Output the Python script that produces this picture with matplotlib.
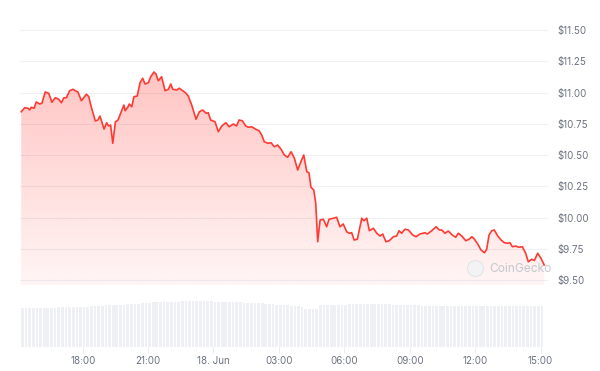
import matplotlib
matplotlib.use("Agg")
import matplotlib.pyplot as plt
import numpy as np
from matplotlib.patches import Polygon
from matplotlib.lines import Line2D

plt.rcParams['font.family'] = ['Inter', 'DejaVu Sans']

# time in hours since 17 Jun 00:00
times = [15.18, 15.34, 15.49, 15.57, 15.64, 15.77, 15.87, 16.03, 16.13, 16.28, 16.44, 16.59, 16.74, 16.90,
         17.02, 17.14, 17.25, 17.40, 17.56, 17.66, 17.78, 17.94, 18.17, 18.28, 18.39, 18.58, 18.70, 18.79,
         18.98, 19.10, 19.19, 19.28, 19.38, 19.50, 19.62, 19.80, 19.89, 19.95, 20.08, 20.14, 20.25, 20.35,
         20.50, 20.63, 20.75, 20.86, 21.01, 21.12, 21.27, 21.36, 21.47, 21.62, 21.78, 21.93, 22.04, 22.13,
         22.31, 22.43, 22.59, 22.74, 22.84, 23.00, 23.20, 23.35, 23.50, 23.66, 23.76, 23.87, 24.07, 24.22,
         24.38, 24.57, 24.72, 24.91, 25.06, 25.17, 25.32, 25.48, 25.60, 25.75, 25.94, 26.09, 26.21, 26.33,
         26.49, 26.64, 26.79, 26.94, 27.10, 27.25, 27.40, 27.56, 27.71, 27.86, 28.01, 28.14, 28.28, 28.38,
         28.47, 28.60, 28.69, 28.78, 28.89, 29.04, 29.19, 29.30, 29.50, 29.65, 29.80, 29.95, 30.11, 30.23,
         30.34, 30.45, 30.60, 30.80, 30.90, 31.03, 31.15, 31.33, 31.49, 31.64, 31.76, 31.91, 32.06, 32.25,
         32.40, 32.51, 32.63, 32.78, 32.94, 33.14, 33.29, 33.47, 33.70, 33.81, 34.01, 34.21, 34.36, 34.47,
         34.62, 34.77, 34.95, 35.11, 35.23, 35.39, 35.57, 35.72, 35.85, 35.97, 36.12, 36.27, 36.43, 36.53,
         36.64, 36.76, 36.88, 37.04, 37.19, 37.34, 37.50, 37.60, 37.71, 37.86, 38.01, 38.17, 38.32, 38.44,
         38.60, 38.72, 38.87, 39.02, 39.17]
prices = [10.846, 10.878, 10.874, 10.860, 10.882, 10.874, 10.924, 10.908, 10.914, 11.004, 10.994, 10.922,
          10.958, 10.946, 10.918, 10.958, 10.958, 11.014, 11.026, 11.014, 11.004, 10.934, 10.986, 10.966,
          10.886, 10.772, 10.780, 10.812, 10.708, 10.758, 10.732, 10.740, 10.594, 10.766, 10.780, 10.860,
          10.900, 10.854, 10.886, 10.908, 10.886, 10.966, 10.972, 11.078, 11.114, 11.068, 11.078, 11.126,
          11.164, 11.148, 11.094, 11.126, 11.014, 11.026, 11.068, 11.026, 11.020, 11.034, 11.014, 10.994,
          10.972, 10.900, 10.786, 10.846, 10.860, 10.834, 10.838, 10.780, 10.766, 10.686, 10.732, 10.758,
          10.726, 10.748, 10.732, 10.780, 10.774, 10.732, 10.722, 10.726, 10.706, 10.694, 10.660, 10.606,
          10.594, 10.598, 10.566, 10.580, 10.546, 10.500, 10.482, 10.526, 10.474, 10.380, 10.446, 10.500,
          10.366, 10.358, 10.242, 10.220, 10.114, 9.806, 9.980, 9.986, 9.926, 9.986, 9.994, 10.002, 9.926,
          9.948, 9.886, 9.874, 9.878, 9.820, 9.826, 9.994, 9.974, 9.994, 9.894, 9.914, 9.874, 9.852, 9.868,
          9.806, 9.814, 9.846, 9.852, 9.894, 9.874, 9.906, 9.900, 9.860, 9.846, 9.868, 9.878, 9.868, 9.894,
          9.926, 9.900, 9.900, 9.874, 9.892, 9.860, 9.842, 9.874, 9.852, 9.814, 9.826, 9.846, 9.826, 9.788,
          9.740, 9.718, 9.746, 9.860, 9.894, 9.900, 9.852, 9.820, 9.798, 9.794, 9.798, 9.766, 9.772, 9.762,
          9.766, 9.714, 9.646, 9.666, 9.656, 9.714, 9.674, 9.620]

# volume bars every 10 minutes starting 15:10 (relative units)
vol_start = 15.17
vol_step = 1 / 6
volumes = [68, 68, 68, 68.5, 68.5, 68.5, 69, 69, 69, 69, 69.5, 69.5,
           70, 70, 70, 70.5, 70.5, 71, 71, 71.5, 72, 72, 72.5,
           73, 73, 73.5, 74, 74, 74.5, 75, 75,
           75.5, 76, 76.5, 77, 78, 78.5,
           79, 79, 79, 79.5, 79.5, 79.5, 79.5, 80, 80, 80, 80, 80, 80, 80, 80, 80, 79.5, 79.5, 79.5, 79.5, 79, 79,
           78.5, 78.5, 78, 78, 78, 77.5, 77,
           76.5, 76, 75.5, 75, 74.5, 74,
           73.5, 73, 72.5, 72, 72, 71,
           67, 67, 66.5, 67,
           73, 73.5, 73.5, 74, 74, 74, 74.5, 74.5, 75, 75, 75,
           75.5, 75.5, 75.5, 75.5, 75.5, 75.5, 75, 75, 75, 74.5, 74.5,
           74, 73.5, 73.5, 73, 73, 73, 72.5, 72.5,
           72, 72, 72, 72, 72, 72, 72, 72, 72.5, 72.5, 72.5, 72.5, 72, 72, 72, 72, 72, 72, 72, 72,
           71.5, 71.5, 71.5, 71.5, 72, 72, 72, 72, 72, 72, 72, 72]

price_ticks = [9.50, 9.75, 10.00, 10.25, 10.50, 10.75, 11.00, 11.25, 11.50]
x_ticks = [18, 21, 24, 27, 30, 33, 36, 39]
x_labels = ["18:00", "21:00", "18. Jun", "03:00", "06:00", "09:00", "12:00", "15:00"]

W, H = 600, 371
fig = plt.figure(figsize=(W / 100, H / 100), dpi=100)
fig.patch.set_facecolor("white")

XL = (15.124, 39.344)
ax = fig.add_axes([20 / W, 1 - 285 / H, 528 / W, 265 / H])
ax.set_xlim(*XL)
ax.set_ylim(11.74 - 285 / 125, 11.74 - 20 / 125)

line_color = "#ff3a33"
grid_color = "#eef0f2"
text_color = "#6b7280"

for s in ax.spines.values():
    s.set_visible(False)
ax.set_yticks(price_ticks)
ax.set_yticklabels([f"${v:.2f}" for v in price_ticks])
ax.yaxis.tick_right()
ax.tick_params(axis="y", length=0, pad=6.5, labelsize=7, labelcolor=text_color)
ax.set_xticks([])
ax.grid(axis="y", color=grid_color, linewidth=0.8)
ax.set_axisbelow(True)

# gradient fill under the line
ylo, yhi = ax.get_ylim()
grad = np.linspace(0.05, 0.30, 256)
rgba = np.zeros((256, 1, 4))
rgba[..., 0] = 1.0
rgba[..., 1] = 58 / 255
rgba[..., 2] = 51 / 255
rgba[:, 0, 3] = grad
im = ax.imshow(rgba, extent=[XL[0], XL[1], ylo, 11.2], origin="lower", aspect="auto", zorder=1)
verts = [(times[0], ylo)] + list(zip(times, prices)) + [(times[-1], ylo)]
poly = Polygon(verts, closed=True, facecolor="none", edgecolor="none")
ax.add_patch(poly)
im.set_clip_path(poly)
ax.set_ylim(ylo, yhi)
ax.set_xlim(*XL)

ax.plot(times, prices, color=line_color, linewidth=1.2, zorder=3, solid_joinstyle="round")

# watermark
fig.add_artist(Line2D([475 / W], [1 - 268 / H], transform=fig.transFigure, marker="o",
                      markersize=11.5, markerfacecolor="#f2f3f5", markeredgecolor="#e3e5e9",
                      markeredgewidth=0.8, linestyle="none", zorder=5))
fig.text(489 / W, 1 - 268.5 / H, "CoinGecko", color="#c3c7ce", fontsize=8.6, va="center", ha="left",
         zorder=6)

# volume axes
axv = fig.add_axes([20 / W, 1 - 347 / H, 528 / W, 57 / H])
axv.set_xlim(*XL)
axv.set_ylim(0, 100)
vt = [vol_start + i * vol_step for i in range(len(volumes))]
axv.bar(vt, volumes, width=vol_step * 0.75, color="#eff0f3", linewidth=0, align="edge")
for s in axv.spines.values():
    s.set_visible(False)
axv.set_yticks([])
axv.set_xticks(x_ticks)
axv.set_xticklabels(x_labels)
axv.tick_params(axis="x", length=4, width=0.6, color="#e6e8eb", pad=2.5, labelsize=7, labelcolor=text_color)

fig.savefig("out.png", dpi=100, facecolor="white")
